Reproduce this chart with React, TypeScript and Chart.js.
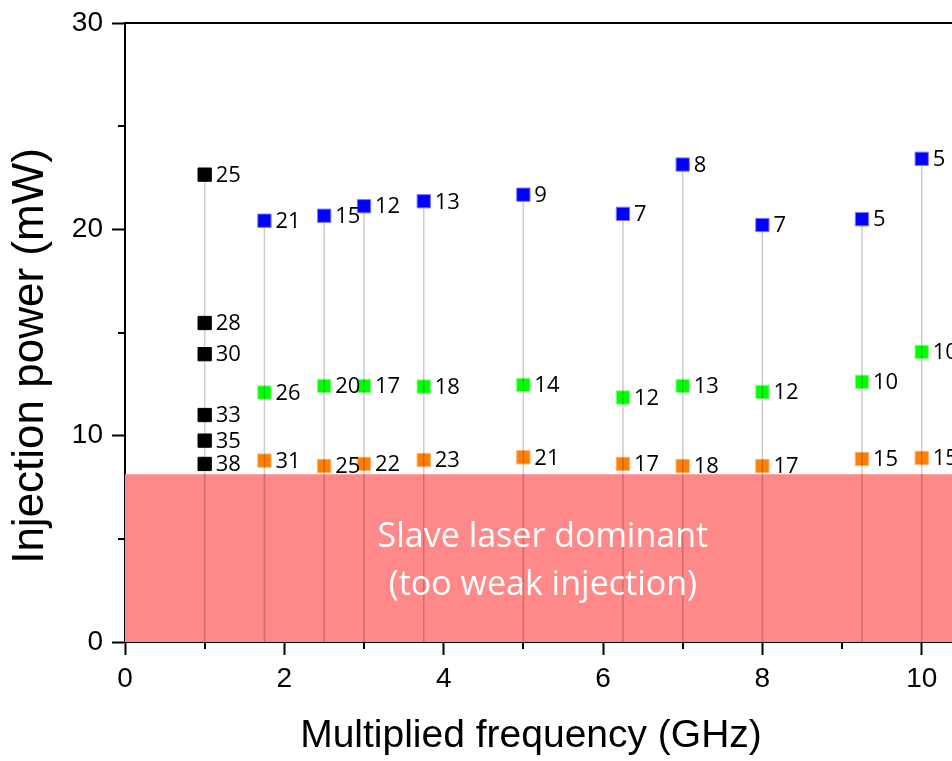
import React, { useEffect, useRef } from 'react';
import { Chart, registerables } from 'chart.js';

Chart.register(...registerables);

// ---- data ----
const blackFreq = [1, 1, 1, 1, 1, 1];
const blackPower = [22.65, 15.46, 13.95, 11.0, 9.76, 8.63];
const blackLabels = ['25', '28', '30', '33', '35', '38'];

const freq = [1.75, 2.5, 3, 3.75, 5, 6.25, 7, 8, 9.25, 10];
const bluePower = [20.42, 20.66, 21.12, 21.36, 21.68, 20.75, 23.14, 20.21, 20.49, 23.42];
const blueLabels = ['21', '15', '12', '13', '9', '7', '8', '7', '5', '5'];
const greenPower = [12.09, 12.41, 12.41, 12.38, 12.46, 11.85, 12.41, 12.12, 12.61, 14.06];
const greenLabels = ['26', '20', '17', '18', '14', '12', '13', '12', '10', '10'];
const orangePower = [8.79, 8.53, 8.63, 8.82, 8.95, 8.63, 8.53, 8.53, 8.87, 8.92];
const orangeLabels = ['31', '25', '22', '23', '21', '17', '18', '17', '15', '15'];

const slaveLimit = 8.13;
const xMin = 0;
const xMax = 10.38;
const yMin = 0;
const yMax = 30;
const xMajorTicks = [0, 2, 4, 6, 8, 10];
const xMinorTicks = [1, 3, 5, 7, 9];
const yMajorTicks = [0, 10, 20, 30];
const yMinorTicks = [5, 15, 25];

const xTitle = 'Multiplied frequency (GHz)';
const yTitle = 'Injection power (mW)';
const regionText = ['Slave laser dominant', '(too weak injection)'];

// ---- helpers ----
const toPoints = (xs: number[], ys: number[]) => xs.map((x, i) => ({ x, y: ys[i] }));

const allSeries = [
  { x: blackFreq, y: blackPower },
  { x: freq, y: bluePower },
  { x: freq, y: greenPower },
  { x: freq, y: orangePower },
];

function buildStems() {
  const xs = Array.from(new Set([...blackFreq, ...freq]));
  const pts: { x: number; y: number | null }[] = [];
  xs.forEach((fx) => {
    let top = 0;
    allSeries.forEach((s) =>
      s.x.forEach((xx, i) => {
        if (xx === fx) top = Math.max(top, s.y[i]);
      })
    );
    pts.push({ x: fx, y: 0 }, { x: fx, y: top }, { x: fx, y: null });
  });
  return pts;
}

const decorPlugin = {
  id: 'decor',
  afterDatasetsDraw(chart: any) {
    const ctx = chart.ctx;
    const xs = chart.scales.x;
    const ys = chart.scales.y;
    ctx.save();
    // region text
    ctx.fillStyle = '#ffffff';
    ctx.font = '34px "Open Sans"';
    ctx.textAlign = 'center';
    ctx.textBaseline = 'alphabetic';
    const cx = xs.getPixelForValue(5.245);
    ctx.fillText(regionText[0], cx, ys.getPixelForValue(4.58));
    ctx.fillText(regionText[1], cx, ys.getPixelForValue(2.27));

    // point labels
    ctx.fillStyle = '#000000';
    ctx.font = '22px "Open Sans"';
    ctx.textAlign = 'left';
    ctx.textBaseline = 'middle';
    chart.data.datasets.forEach((ds: any, di: number) => {
      const labels = ds.pointLabels;
      if (!labels) return;
      const meta = chart.getDatasetMeta(di);
      meta.data.forEach((el: any, i: number) => {
        ctx.fillText(labels[i], el.x + 11, el.y + 1);
      });
    });
    ctx.restore();
  },
  afterDraw(chart: any) {
    const ctx = chart.ctx;
    const { left, right, top, bottom } = chart.chartArea;
    const xs = chart.scales.x;
    const ys = chart.scales.y;
    ctx.save();
    ctx.strokeStyle = '#000';
    ctx.lineWidth = 2;
    // top frame line
    ctx.beginPath();
    ctx.moveTo(left - 1, top);
    ctx.lineTo(right, top);
    ctx.stroke();
    // minor ticks
    ctx.beginPath();
    xMinorTicks.forEach((v) => {
      const px = Math.round(xs.getPixelForValue(v));
      ctx.moveTo(px, bottom);
      ctx.lineTo(px, bottom + 7);
    });
    yMinorTicks.forEach((v) => {
      const py = Math.round(ys.getPixelForValue(v));
      ctx.moveTo(left, py);
      ctx.lineTo(left - 7, py);
    });
    ctx.stroke();

    // axis titles
    ctx.fillStyle = '#000';
    ctx.textAlign = 'center';
    ctx.textBaseline = 'alphabetic';
    ctx.font = '39px "Liberation Sans"';
    ctx.fillText(xTitle, 531, 747);
    ctx.translate(43, 356);
    ctx.rotate(-Math.PI / 2);
    ctx.font = '44px "Liberation Sans"';
    ctx.fillText(yTitle, 0, 0);
    ctx.restore();
  },
};

export default function App() {
  const ref = useRef<HTMLCanvasElement>(null);

  useEffect(() => {
    if (!ref.current) return;
    const markerBase = {
      type: 'scatter' as const,
      pointStyle: 'rect',
      pointRadius: 9.4,
      pointHoverRadius: 9.4,
      borderWidth: 1,
      showLine: false,
    };
    const chart = new Chart(ref.current, {
      type: 'scatter',
      data: {
        datasets: [
          {
            ...markerBase,
            label: 'blue',
            data: toPoints(freq, bluePower),
            backgroundColor: '#0000ff',
            borderColor: '#7a7aff',
            order: 0,
            pointLabels: blueLabels,
          } as any,
          {
            type: 'line',
            label: 'stems',
            data: buildStems(),
            borderColor: 'rgba(0,0,0,0.2)',
            borderWidth: 1.5,
            pointRadius: 0,
            spanGaps: false,
            fill: false,
            order: 1,
          } as any,
          {
            ...markerBase,
            label: 'black',
            data: toPoints(blackFreq, blackPower),
            backgroundColor: '#000000',
            borderColor: '#000000',
            order: 2,
            pointLabels: blackLabels,
          } as any,
          {
            ...markerBase,
            label: 'green',
            data: toPoints(freq, greenPower),
            backgroundColor: '#00ff00',
            borderColor: '#80ff80',
            order: 2,
            pointLabels: greenLabels,
          } as any,
          {
            ...markerBase,
            label: 'orange',
            data: toPoints(freq, orangePower),
            backgroundColor: '#ff8000',
            borderColor: '#ffb070',
            order: 2,
            pointLabels: orangeLabels,
          } as any,
          {
            type: 'line',
            label: 'slave',
            data: [
              { x: xMin, y: slaveLimit },
              { x: xMax, y: slaveLimit },
            ],
            borderWidth: 0,
            borderColor: 'rgba(0,0,0,0)',
            backgroundColor: '#ff8888',
            pointRadius: 0,
            fill: 'origin',
            order: 3,
          } as any,
        ],
      },
      options: {
        animation: false,
        responsive: false,
        devicePixelRatio: 1,
        layout: { autoPadding: false, padding: { top: 23, left: 0, right: 0, bottom: 0 } },
        plugins: {
          legend: { display: false },
          tooltip: { enabled: false },
          title: { display: false },
        },
        scales: {
          x: {
            type: 'linear',
            min: xMin,
            max: xMax,
            afterBuildTicks: (scale: any) => {
              scale.ticks = xMajorTicks.map((v) => ({ value: v }));
            },
            afterFit: (scale: any) => {
              scale.height = 119;
              scale.paddingLeft = 0;
              scale.paddingRight = 0;
            },
            grid: {
              display: true,
              drawOnChartArea: false,
              drawTicks: true,
              tickLength: 13,
              tickWidth: 2,
              tickColor: '#000',
            },
            border: { display: true, color: '#000', width: 2 },
            ticks: {
              font: { family: 'Liberation Sans', size: 28 },
              color: '#000',
              padding: 7,
              maxRotation: 0,
              autoSkip: false,
            },
          },
          y: {
            type: 'linear',
            min: yMin,
            max: yMax,
            afterBuildTicks: (scale: any) => {
              scale.ticks = yMajorTicks.map((v) => ({ value: v }));
            },
            afterFit: (scale: any) => {
              scale.width = 125;
              scale.paddingTop = 0;
              scale.paddingBottom = 0;
            },
            grid: {
              display: true,
              drawOnChartArea: false,
              drawTicks: true,
              tickLength: 13,
              tickWidth: 2,
              tickColor: '#000',
            },
            border: { display: true, color: '#000', width: 2 },
            ticks: {
              font: { family: 'Liberation Sans', size: 28 },
              color: '#000',
              padding: 9,
              autoSkip: false,
            },
          },
        },
      } as any,
      plugins: [decorPlugin],
    });
    return () => chart.destroy();
  }, []);

  return (
    <div style={{ position: 'absolute', left: 0, top: 0, width: 952, height: 761, background: '#fff' }}>
      <canvas ref={ref} width={952} height={761} style={{ display: 'block' }} />
    </div>
  );
}
